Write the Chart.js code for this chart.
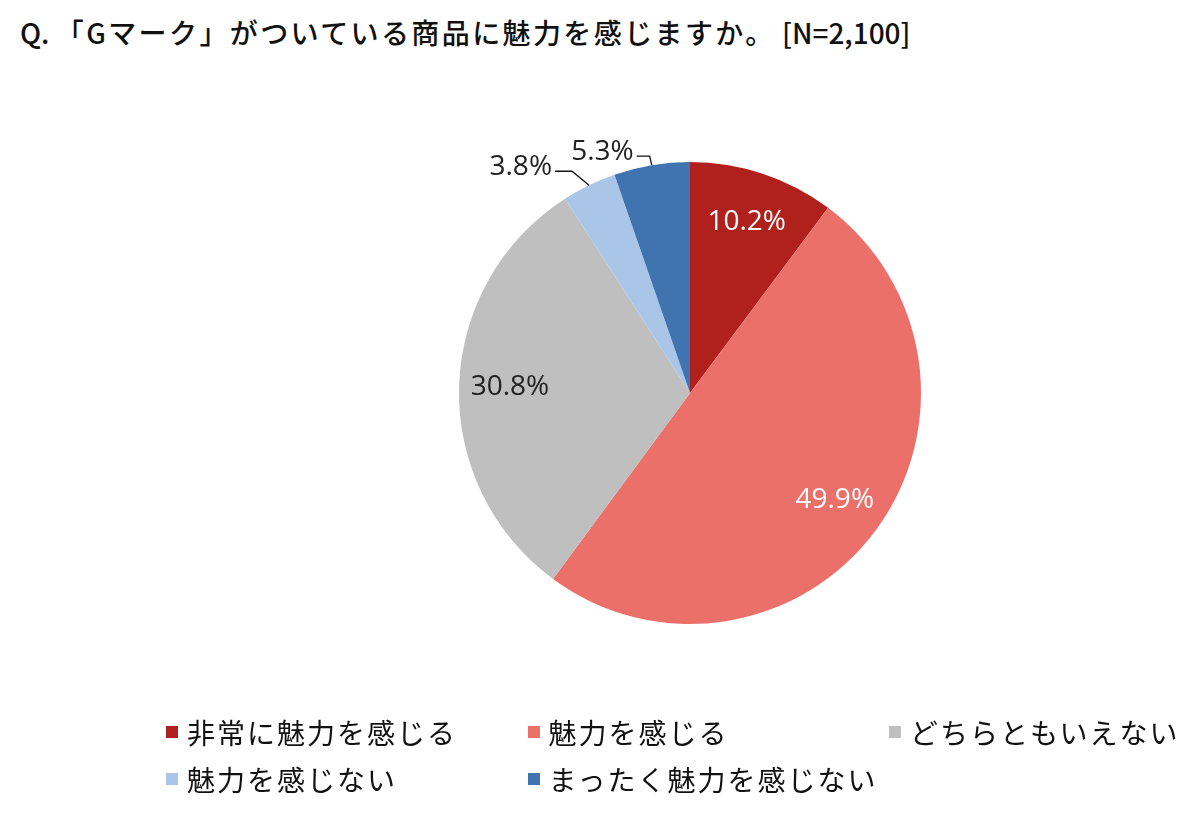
<!DOCTYPE html>
<html lang="ja">
<head>
<meta charset="utf-8">
<script src="https://cdn.jsdelivr.net/npm/chart.js@4.4.1/dist/chart.umd.min.js"></script>
<style>
  html, body { margin:0; padding:0; background:#fff; }
  body { width:1200px; height:822px; position:relative; overflow:hidden; font-family:"Noto Sans CJK JP","Noto Sans",sans-serif; color:#111; }
  #title { position:absolute; left:20px; top:12px; font-size:28px; font-weight:500; white-space:nowrap; }
  #title .jp { letter-spacing:2.4px; }
  #wrap { position:absolute; left:0; top:0; width:1200px; height:822px; }
  #legend { position:absolute; left:166px; top:712px; width:1040px; }
  .item { position:absolute; display:flex; align-items:center; font-size:28px; letter-spacing:2px; white-space:nowrap; }
  .box { width:12px; height:12px; margin-right:9px; }
</style>
</head>
<body>
<div id="title">Q. <span class="jp">「Gマーク」がついている商品に魅力を感じますか。</span> [N=2,100]</div>
<div id="wrap"><canvas id="pie"></canvas></div>
<div id="legend"></div>
<script>
// data
const labels = ['非常に魅力を感じる', '魅力を感じる', 'どちらともいえない', '魅力を感じない', 'まったく魅力を感じない'];
const values = [10.2, 49.9, 30.8, 3.8, 5.3];
const colors = ['#B0201C', '#EC706A', '#BFBFBF', '#A9C6E8', '#3F74B1'];
const labelColors = ['#fff', '#fff', '#222', '#222', '#222'];

// label placement: inside slices, or outside with leader line (elbow offsets)
const outside = [null, null, null, { dx:-17, dy:-14, len:17 }, { dx:-2, dy:-9, len:13 }];

const pieLabels = {
  id: 'pieLabels',
  afterDatasetsDraw(chart) {
    const ctx = chart.ctx;
    const meta = chart.getDatasetMeta(0);
    ctx.save();
    ctx.font = '28px "Open Sans", "Noto Sans", sans-serif';
    meta.data.forEach((arc, i) => {
      const mid = (arc.startAngle + arc.endAngle) / 2;
      const txt = values[i].toFixed(1) + '%';
      const o = outside[i];
      if (!o) {
        const r = arc.outerRadius * 0.78;
        ctx.fillStyle = labelColors[i];
        ctx.textAlign = 'center';
        ctx.textBaseline = 'middle';
        ctx.fillText(txt, arc.x + Math.cos(mid) * r, arc.y + Math.sin(mid) * r);
      } else {
        const ex = arc.x + Math.cos(mid) * arc.outerRadius;
        const ey = arc.y + Math.sin(mid) * arc.outerRadius;
        const bx = ex + o.dx, by = ey + o.dy;
        const tx = bx - o.len;
        ctx.strokeStyle = '#111';
        ctx.lineWidth = 1.3;
        ctx.beginPath();
        ctx.moveTo(ex, ey); ctx.lineTo(bx, by); ctx.lineTo(tx, by);
        ctx.stroke();
        ctx.fillStyle = labelColors[i];
        ctx.textAlign = 'right';
        ctx.textBaseline = 'alphabetic';
        ctx.fillText(txt, tx - 3, by + 4);
      }
    });
    ctx.restore();
  }
};

new Chart(document.getElementById('pie'), {
  type: 'pie',
  data: { labels, datasets: [{ data: values, backgroundColor: colors, borderWidth: 0 }] },
  options: {
    responsive: true, maintainAspectRatio: false, animation: false,
    layout: { padding: { left: 459, right: 279, top: 162, bottom: 198 } },
    plugins: { legend: { display: false }, tooltip: { enabled: false } }
  },
  plugins: [pieLabels]
});

// html legend, 3 columns
const lg = document.getElementById('legend');
labels.forEach((l, i) => {
  const d = document.createElement('div');
  d.className = 'item';
  d.style.left = (i % 3) * 361.5 + 'px';
  d.style.top = Math.floor(i / 3) * 47 + 'px';
  d.innerHTML = `<span class="box" style="background:${colors[i]}"></span><span>${l}</span>`;
  lg.appendChild(d);
});
</script>
</body>
</html>
